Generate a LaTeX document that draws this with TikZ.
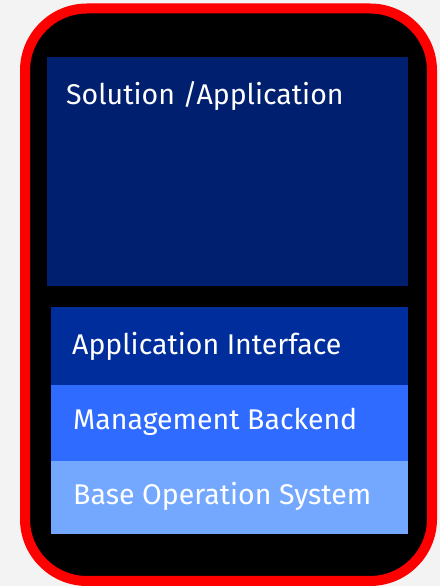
\documentclass[tikz,border=0pt]{standalone}
\usepackage{fontspec}
\setmainfont{Fira Sans}
\usetikzlibrary{positioning}
\definecolor{pagegray}{HTML}{F3F3F3}
\definecolor{framered}{HTML}{FF0000}
\definecolor{solblue}{HTML}{001F6E}
\definecolor{apiblue}{HTML}{002D9C}
\definecolor{mgmtblue}{HTML}{2F6BFF}
\definecolor{baseblue}{HTML}{74A8FF}
\begin{document}
\begin{tikzpicture}[
    x=1pt, y=1pt,
    layer/.style={draw=none, inner sep=0pt, minimum width=357pt, minimum height=76.5pt, anchor=north west},
    title/.style={font=\fontsize{28.5}{34}\selectfont, text=white, anchor=base west, inner sep=0pt},
]

% Page and frame
\useasboundingbox[fill=pagegray] (0,0) rectangle (440,586);
\draw[framered, line width=10pt, fill=black, rounded corners=62pt] (25,5) rectangle (432,577.5);

% Solution block
\node[layer, fill=solblue, minimum width=361pt, minimum height=229pt] (solution) at (47,529) {};
\node[title] (soltext) at ([xshift=19pt, yshift=-48pt]solution.north west) {Solution /Application};

% Stack of layers
\node[layer, fill=apiblue, minimum height=77.5pt] (api) at (51,279) {};
\node[layer, fill=mgmtblue, below=-0.5pt of api.south west, anchor=north west] (mgmt) {};
\node[layer, fill=baseblue, minimum height=73.5pt, below=-0.5pt of mgmt.south west, anchor=north west] (base) {};

\node[title] (apitext) at ([xshift=21pt, yshift=30pt]api.south west) {Application Interface};
\node[title] (mgmttext) at ([xshift=22pt, yshift=32pt]mgmt.south west) {Management Backend};
\node[title] (basetext) at ([xshift=22pt, yshift=30pt]base.south west) {Base Operation System};

\end{tikzpicture}
\end{document}
